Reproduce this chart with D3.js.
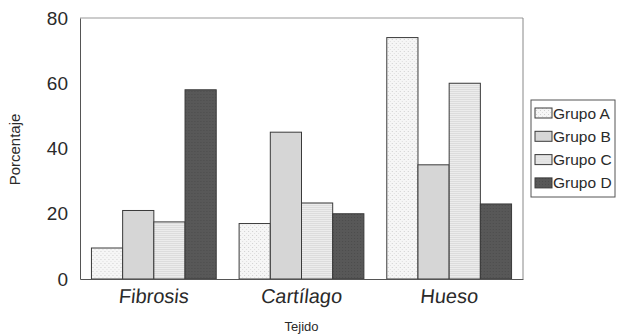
<!DOCTYPE html>
<html>
<head>
<meta charset="utf-8">
<script src="https://cdn.jsdelivr.net/npm/d3@7"></script>
<style>
  body { margin: 0; background: #fff; }
  text { font-family: "Liberation Sans", Arial, sans-serif; fill: #2a2a2a; }
</style>
</head>
<body>
<svg id="drawing_region"></svg>
<script>
const categories = ['Fibrosis', 'Cartílago', 'Hueso'];
const groups = ['Grupo A', 'Grupo B', 'Grupo C', 'Grupo D'];
const grupoA = [9.5, 17, 74];
const grupoB = [21, 45, 35];
const grupoC = [17.5, 23.3, 60];
const grupoD = [58, 20, 23];
const yTicks = [0, 20, 40, 60, 80];

const seriesValues = [grupoA, grupoB, grupoC, grupoD];
const fills = ['url(#patA)', '#d6d6d6', 'url(#patC)', 'url(#patD)'];

const width = 629, height = 336;
const margin = {top: 18, right: 106, bottom: 57, left: 80};
const innerW = width - margin.left - margin.right;
const innerH = height - margin.top - margin.bottom;

const svg = d3.select('#drawing_region')
    .attr('width', width)
    .attr('height', height);

// patterns for the grey textures
const defs = svg.append('defs');
const pA = defs.append('pattern').attr('id', 'patA')
    .attr('patternUnits', 'userSpaceOnUse').attr('width', 4).attr('height', 4);
pA.append('rect').attr('width', 4).attr('height', 4).attr('fill', '#f6f6f6');
pA.append('rect').attr('x', 1).attr('y', 1).attr('width', 1).attr('height', 1).attr('fill', '#d0d0d0');
pA.append('rect').attr('x', 3).attr('y', 3).attr('width', 1).attr('height', 1).attr('fill', '#dedede');

const pC = defs.append('pattern').attr('id', 'patC')
    .attr('patternUnits', 'userSpaceOnUse').attr('width', 4).attr('height', 2);
pC.append('rect').attr('width', 4).attr('height', 2).attr('fill', '#ececec');
pC.append('rect').attr('y', 1).attr('width', 4).attr('height', 1).attr('fill', '#dcdcdc');

const pD = defs.append('pattern').attr('id', 'patD')
    .attr('patternUnits', 'userSpaceOnUse').attr('width', 3).attr('height', 3);
pD.append('rect').attr('width', 3).attr('height', 3).attr('fill', '#585858');
pD.append('rect').attr('x', 1).attr('y', 1).attr('width', 1).attr('height', 1).attr('fill', '#4c4c4c');

const chart = svg.append('g')
    .attr('transform', `translate(${margin.left}, ${margin.top})`);

const xscale = d3.scaleBand()
    .domain(categories)
    .range([0, innerW])
    .paddingInner(0.155)
    .paddingOuter(0.0775);

const xsub = d3.scaleBand()
    .domain(groups)
    .range([0, xscale.bandwidth()]);

const yscale = d3.scaleLinear()
    .domain([0, 80])
    .range([innerH, 0]);

// bars
categories.forEach((cat, ci) => {
    const g = chart.append('g').attr('transform', `translate(${xscale(cat)}, 0)`);
    groups.forEach((grp, gi) => {
        const v = seriesValues[gi][ci];
        g.append('rect')
            .attr('x', xsub(grp))
            .attr('y', yscale(v))
            .attr('width', xsub.bandwidth())
            .attr('height', innerH - yscale(v))
            .attr('fill', fills[gi])
            .attr('stroke', '#3a3a3a')
            .attr('stroke-width', 1);
    });
});

// frame (top and right lighter)
chart.append('line').attr('x1', 0).attr('x2', innerW).attr('y1', 0).attr('y2', 0)
    .attr('stroke', '#999');
chart.append('line').attr('x1', innerW).attr('x2', innerW).attr('y1', 0).attr('y2', innerH)
    .attr('stroke', '#888');

// axes
const xaxis = d3.axisBottom(xscale).tickSize(0).tickPadding(10);
const yaxis = d3.axisLeft(yscale).tickValues(yTicks).tickSize(0).tickPadding(12);

const xg = chart.append('g')
    .attr('transform', `translate(0, ${innerH})`)
    .call(xaxis);
xg.select('.domain').attr('stroke', '#555');
// the scanned labels lean slightly
xg.selectAll('text')
    .attr('font-size', 20)
    .attr('transform', 'skewX(-6)')
    .attr('dx', 2)
    .attr('fill', '#2a2a2a');

const yg = chart.append('g').call(yaxis);
yg.select('.domain').attr('stroke', '#555');
yg.selectAll('text').attr('font-size', 19).attr('fill', '#2a2a2a');

// axis titles
svg.append('text')
    .attr('transform', `translate(20, ${margin.top + innerH / 2 + 1}) rotate(-90)`)
    .attr('text-anchor', 'middle')
    .attr('font-size', 15)
    .text('Porcentaje');

svg.append('text')
    .attr('x', margin.left + xscale('Cartílago') + xscale.bandwidth() / 2)
    .attr('y', 331)
    .attr('text-anchor', 'middle')
    .attr('font-size', 13)
    .text('Tejido');

// legend
const legend = svg.append('g').attr('transform', 'translate(531, 100)');
legend.append('rect')
    .attr('width', 84).attr('height', 97)
    .attr('fill', '#fff').attr('stroke', '#555');
groups.forEach((grp, i) => {
    const row = legend.append('g').attr('transform', `translate(4, ${13 + i * 23.3})`);
    row.append('rect')
        .attr('x', 0).attr('y', -5).attr('width', 17).attr('height', 10)
        .attr('fill', fills[i]).attr('stroke', '#3a3a3a');
    row.append('text')
        .attr('x', 18).attr('y', 5.5)
        .attr('font-size', 15.5)
        .text(grp);
});
</script>
</body>
</html>
